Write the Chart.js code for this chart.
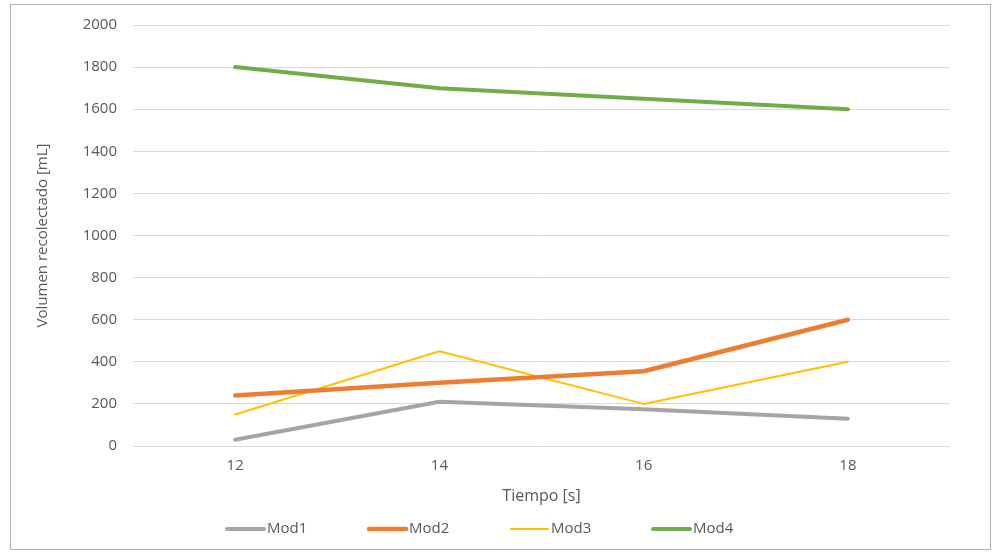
<!DOCTYPE html>
<html>
<head>
<meta charset="utf-8">
<script src="https://cdn.jsdelivr.net/npm/chart.js@4/dist/chart.umd.min.js"></script>
<style>
  html, body { margin: 0; background: #fff; }
  #wrap { width: 993px; height: 552px; }
</style>
</head>
<body>
<div id="wrap"><canvas id="volumenChart"></canvas></div>
<script>
// tiempo de recolección [s]
const tiempos = ['12', '14', '16', '18'];

// volumen recolectado [mL] por modelo
const mod1 = [30, 210, 175, 130];
const mod2 = [240, 300, 355, 600];
const mod3 = [150, 450, 200, 400];
const mod4 = [1800, 1700, 1650, 1600];

const textColor = '#595959';
const fontFamily = '"Open Sans", "DejaVu Sans", sans-serif';

// white background and thin frame around the whole chart
const frame = {
    id: 'frame',
    beforeDraw(chart) {
        const ctx = chart.ctx;
        ctx.save();
        ctx.fillStyle = '#ffffff';
        ctx.fillRect(0, 0, chart.width, chart.height);
        ctx.strokeStyle = '#b4b4b4';
        ctx.lineWidth = 1;
        ctx.strokeRect(10.5, 4.5, 980, 545);
        ctx.restore();
    }
};

// legend row under the axis title: short line sample + dataset name
const lineLegend = {
    id: 'lineLegend',
    afterDraw(chart) {
        const ctx = chart.ctx;
        const y = 529;
        let x = 227;
        ctx.save();
        ctx.font = '15px ' + fontFamily;
        ctx.textBaseline = 'middle';
        ctx.textAlign = 'left';
        chart.data.datasets.forEach(ds => {
            ctx.strokeStyle = ds.borderColor;
            ctx.lineWidth = ds.borderWidth;
            ctx.lineCap = 'round';
            ctx.beginPath();
            ctx.moveTo(x, y);
            ctx.lineTo(x + 37, y);
            ctx.stroke();
            ctx.fillStyle = textColor;
            ctx.fillText(ds.label, x + 40, y);
            x += 142;
        });
        ctx.restore();
    }
};

const volumenChart = new Chart(document.getElementById('volumenChart'), {
    type: 'line',
    data: {
        labels: tiempos,
        datasets: [
            { label: 'Mod1', data: mod1, borderColor: '#a5a5a5', borderWidth: 4 },
            { label: 'Mod2', data: mod2, borderColor: '#ed7d31', borderWidth: 4.5 },
            { label: 'Mod3', data: mod3, borderColor: '#ffc000', borderWidth: 2 },
            { label: 'Mod4', data: mod4, borderColor: '#70ad47', borderWidth: 4 }
        ]
    },
    options: {
        responsive: true,
        maintainAspectRatio: false,
        animation: false,
        elements: {
            point: { radius: 0, hoverRadius: 0 },
            line: { tension: 0, borderCapStyle: 'round', borderJoinStyle: 'round', fill: false }
        },
        layout: {
            padding: { left: 30, right: 43, top: 25, bottom: 46 }
        },
        plugins: {
            legend: { display: false },
            tooltip: { enabled: false }
        },
        scales: {
            x: {
                offset: true,
                grid: { display: false, drawTicks: false },
                border: { display: false },
                ticks: {
                    color: textColor,
                    font: { family: fontFamily, size: 15 },
                    padding: 11
                },
                title: {
                    display: true,
                    text: 'Tiempo [s]',
                    color: textColor,
                    font: { family: fontFamily, size: 16 },
                    padding: { top: 0, bottom: 0 }
                },
                afterFit: scale => { scale.height = 60; }
            },
            y: {
                min: 0,
                max: 2000,
                grid: { color: '#d9d9d9', lineWidth: 1, drawTicks: false },
                border: { display: false },
                ticks: {
                    stepSize: 200,
                    color: textColor,
                    font: { family: fontFamily, size: 15 },
                    padding: 16,
                    callback: value => String(value)
                },
                title: {
                    display: true,
                    text: 'Volumen recolectado [mL]',
                    color: textColor,
                    font: { family: fontFamily, size: 15 },
                    padding: { top: 4, bottom: 0 }
                },
                afterFit: scale => { scale.width = 103; }
            }
        }
    },
    plugins: [frame, lineLegend]
});
</script>
</body>
</html>
